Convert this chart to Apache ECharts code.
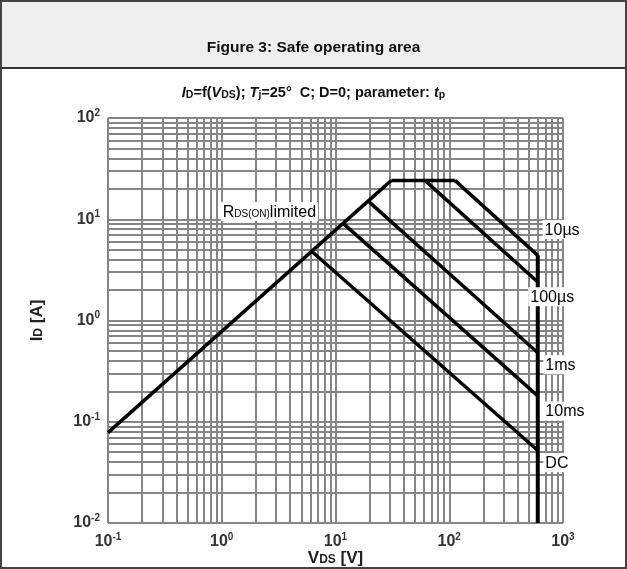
<!DOCTYPE html>
<html>
<head>
<meta charset="utf-8">
<script src="https://cdn.jsdelivr.net/npm/echarts@6/dist/echarts.min.js"></script>
<style>
  html, body { margin: 0; padding: 0; background: #fff; }
  #chart { width: 627px; height: 569px; }
</style>
</head>
<body>
<div id="chart"></div>
<script>
// axis ranges and grid
const vDecades = [0.1, 1, 10, 100]
const iDecades = [0.01, 0.1, 1, 10]
const mantissas = [1, 2, 3, 4, 5, 6, 7, 8, 9]

// SOA curves, [V_DS, I_D]
const rdsOnLimit = [[0.1, 0.078], [31, 24.2]]
const currentLimit = [[31, 24.2], [112, 24.2]]
const pulse10us = [[112, 24.2], [600, 4.4]]
const pulse100us = [[61, 24.2], [600, 2.4]]
const pulse1ms = [[19.5, 15], [600, 0.48]]
const pulse10ms = [[11.8, 9.0], [600, 0.18]]
const dcLine = [[6.2, 4.8], [600, 0.052]]
const voltageLimit = [[600, 4.4], [600, 0.01]]

// curve labels, [V_DS, I_D, text]
const curveLabels = [
    [655, 7.9, '10µs'],
    [490, 1.72, '100µs'],
    [665, 0.366, '1ms'],
    [665, 0.128, '10ms'],
    [665, 0.0395, 'DC'],
    [0.97, 11.9, 'RDS']
]

const gridV = vDecades.flatMap(d => mantissas.map(m => m * d)).concat([1000])
const gridI = iDecades.flatMap(d => mantissas.map(m => m * d)).concat([100])

const chart = echarts.init(document.getElementById('chart'))

const pow = v => {
    const e = Math.round(Math.log10(v))
    return '{b|10}{s|' + e + '}'
}

const curve = (name, data, width) => ({
    name,
    type: 'line',
    data,
    z: 10,
    symbol: 'none',
    silent: true,
    lineStyle: { color: '#000', width: width || 3.5 }
})

const gridColor = '#858585'
const labelRich = {
    b: { fontSize: 16, fontWeight: 'bold', color: '#333' },
    s: { fontSize: 10, fontWeight: 'bold', color: '#333', padding: [0, 0, 10, 0] }
}
const nameRich = {
    b: { fontSize: 17, fontWeight: 'bold', color: '#222' },
    s: { fontSize: 12, fontWeight: 'bold', color: '#222', padding: [2, 0, 0, 0] }
}

chart.setOption({
    animation: false,
    textStyle: { fontFamily: 'Liberation Sans, Arial, sans-serif' },
    graphic: [
        { type: 'rect', shape: { x: 1, y: 1, width: 625, height: 67 }, style: { fill: '#efefef' }, z: -10 },
        { type: 'line', shape: { x1: 0, y1: 68, x2: 627, y2: 68 }, style: { stroke: '#333', lineWidth: 2 }, z: -5 },
        { type: 'rect', shape: { x: 1, y: 1, width: 625, height: 567 }, style: { fill: null, stroke: '#444', lineWidth: 2 }, z: -5 }
    ],
    title: [
        {
            text: 'Figure 3: Safe operating area',
            left: 'center',
            top: 35,
            textStyle: { fontSize: 15.5, fontWeight: 'bold', color: '#111' }
        },
        {
            text: '{i|I}{sub|D}{n|=f(}{i|V}{sub|DS}{n|); }{i|T}{sub|j}{n|=25°  C; D=0; parameter: }{i|t}{sub|p}',
            left: 'center',
            top: 79,
            textStyle: {
                rich: {
                    i: { fontSize: 14.5, fontWeight: 'bold', fontStyle: 'italic', color: '#111' },
                    n: { fontSize: 14.5, fontWeight: 'bold', color: '#111' },
                    sub: { fontSize: 10.5, fontWeight: 'bold', color: '#111', padding: [6, 0, 0, 0] }
                }
            }
        }
    ],
    grid: { left: 108, right: 64, top: 118, bottom: 46, outerBoundsMode: 'none' },
    xAxis: {
        type: 'log',
        logBase: 10,
        min: 0.1,
        max: 1000,
        splitNumber: 4,
        axisLine: { show: false },
        axisTick: { show: false },
        splitLine: { show: false },
        axisLabel: { margin: 9, formatter: pow, rich: labelRich },
        name: '{b|V}{s|DS}{b| [V]}',
        nameLocation: 'middle',
        nameGap: 27,
        nameMoveOverlap: false,
        nameTextStyle: { rich: nameRich }
    },
    yAxis: {
        type: 'log',
        logBase: 10,
        min: 0.01,
        max: 100,
        splitNumber: 4,
        axisLine: { show: false },
        axisTick: { show: false },
        splitLine: { show: false },
        axisLabel: { margin: 8, formatter: pow, rich: labelRich },
        name: '{b|I}{s|D}{b| [A]}',
        nameLocation: 'middle',
        nameRotate: 90,
        nameGap: 62,
        nameMoveOverlap: false,
        nameTextStyle: { rich: nameRich }
    },
    series: [
        {
            name: 'grid',
            type: 'line',
            data: [],
            z: 1,
            silent: true,
            markLine: {
                z: 1,
                silent: true,
                symbol: ['none', 'none'],
                label: { show: false },
                lineStyle: { type: 'solid', color: gridColor, width: 2 },
                data: gridV.map(v => ({ xAxis: v })).concat(gridI.map(v => ({ yAxis: v })))
            }
        },
        curve('RDS(on) limit', rdsOnLimit),
        curve('current limit', currentLimit),
        curve('10µs', pulse10us),
        curve('100µs', pulse100us),
        curve('1ms', pulse1ms),
        curve('10ms', pulse10ms),
        curve('DC', dcLine),
        curve('VDS limit', voltageLimit, 4),
        {
            name: 'labels',
            type: 'scatter',
            z: 20,
            silent: true,
            symbolSize: 1,
            itemStyle: { color: 'rgba(0,0,0,0)', opacity: 1 },
            data: curveLabels.map(d => ({ value: [d[0], d[1]], name: d[2] })),
            label: {
                show: true,
                opacity: 1,
                position: 'right',
                distance: 0,
                backgroundColor: '#fff',
                padding: [2, 2, 1, 2],
                color: '#000',
                fontSize: 16,
                formatter: p => p.name === 'RDS' ? '{r|R}{s|DS(ON)}{r|limited}' : p.name,
                rich: {
                    r: { fontSize: 16, color: '#000' },
                    s: { fontSize: 10, color: '#000', padding: [5, 0, 0, 0] }
                }
            }
        }
    ]
})
</script>
</body>
</html>
